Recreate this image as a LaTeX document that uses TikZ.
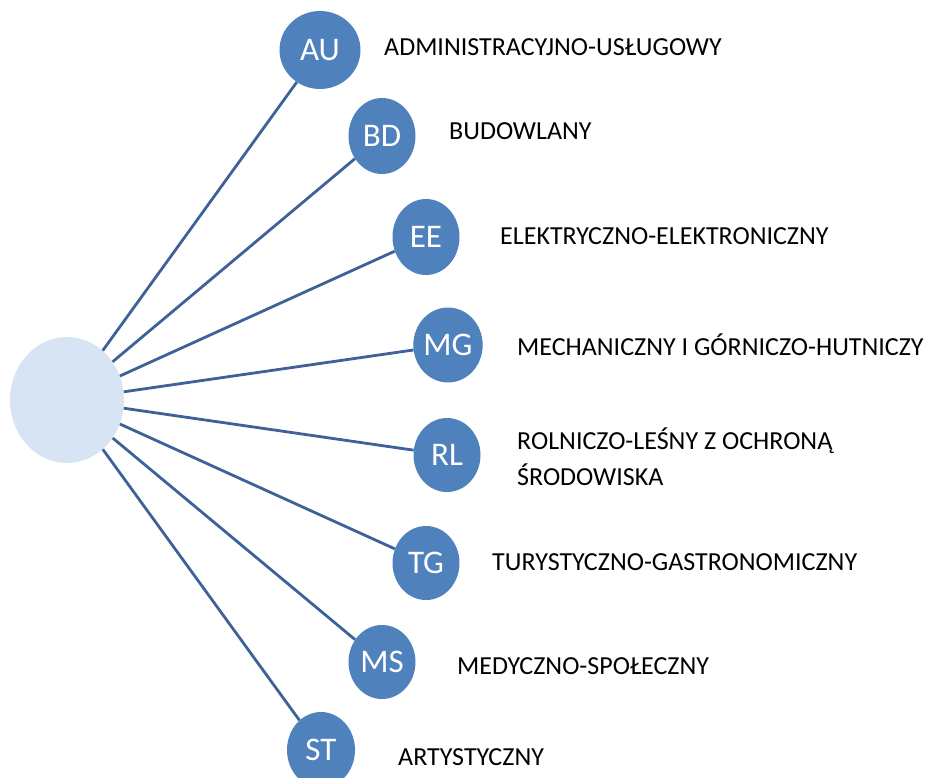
\documentclass[tikz,border=0pt]{standalone}
\usepackage{fontspec}
\setmainfont{Carlito}
\usetikzlibrary{shapes.geometric}
\definecolor{circblue}{RGB}{79,129,189}
\definecolor{linkblue}{RGB}{62,98,152}
\definecolor{hubfill}{RGB}{214,228,244}
\begin{document}
\begin{tikzpicture}[x=1pt,y=-1pt,
  sector/.style={ellipse,fill=circblue,inner sep=0pt,minimum width=67pt,minimum height=76pt,
    text=white,font=\fontsize{33}{36}\selectfont},
  hub/.style={ellipse,fill=hubfill,inner sep=0pt,minimum width=114pt,minimum height=126pt},
  link/.style={draw=linkblue,line width=2.8pt},
  lbl/.style={anchor=base west,inner sep=0pt,font=\fontsize{26}{35}\selectfont,text=black,align=left}]
\useasboundingbox (0,0) rectangle (931,778);
\clip (0,0) rectangle (931,778);
\node[hub] (hub) at (67,400) {};
\node[sector,minimum width=81pt,minimum height=78pt] (AU) at (320,50) {AU};
\node[sector] (BD) at (382,136) {BD};
\node[sector] (EE) at (426,237) {EE};
\node[sector,minimum height=75pt] (MG) at (448,345) {MG};
\node[sector,minimum height=74pt] (RL) at (447,455) {RL};
\node[sector,minimum height=74pt] (TG) at (426,563) {TG};
\node[sector,minimum height=74pt] (MS) at (382,662) {MS};
\node[sector,minimum width=68pt] (ST) at (321,750) {ST};
\foreach \n in {AU,BD,EE,MG,RL,TG,MS,ST} \draw[link] (hub) -- (\n);
\node[lbl] (tAU) at (384,56) {ADMINISTRACYJNO-USŁUGOWY};
\node[lbl] (tBD) at (449,140) {BUDOWLANY};
\node[lbl] (tEE) at (500,244) {ELEKTRYCZNO-ELEKTRONICZNY};
\node[lbl] (tMG) at (517,355) {MECHANICZNY I GÓRNICZO-HUTNICZY};
\node[lbl] (tRL1) at (517,449) {ROLNICZO-LEŚNY Z OCHRONĄ};
\node[lbl] (tRL2) at (517,485) {ŚRODOWISKA};
\node[lbl] (tTG) at (492,570) {TURYSTYCZNO-GASTRONOMICZNY};
\node[lbl] (tMS) at (457,674) {MEDYCZNO-SPOŁECZNY};
\node[lbl] (tST) at (398,765) {ARTYSTYCZNY};
\end{tikzpicture}
\end{document}
